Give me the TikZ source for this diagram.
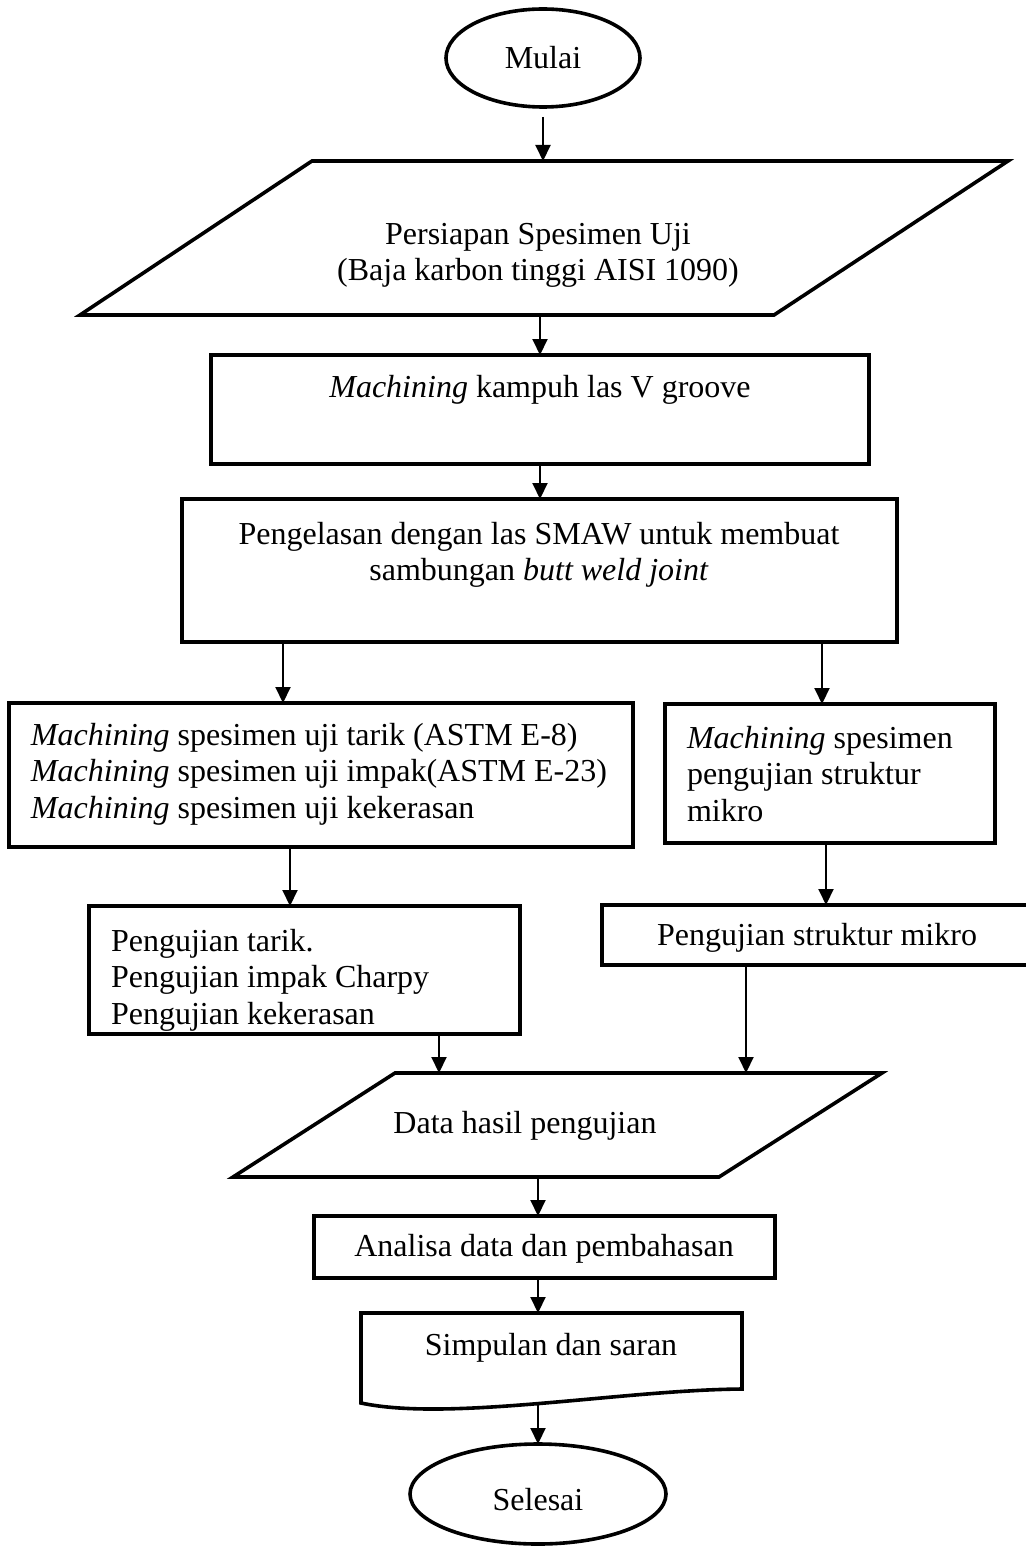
\documentclass[tikz,border=0pt]{standalone}
\usepackage{fontspec}
\setmainfont{Liberation Serif}
\usetikzlibrary{arrows.meta,shapes.geometric,fit}
\begin{document}
\begin{tikzpicture}[x=0.5pt,y=-0.5pt,
  shp/.style={draw=black, line width=1.8pt, line join=miter},
  boxn/.style={shp, rectangle, inner sep=0pt, outer sep=0pt},
  ghost/.style={rectangle, inner sep=0pt, outer sep=0pt},
  term/.style={shp, ellipse, inner sep=0pt, outer sep=0pt, font=\fontsize{16}{18.4}\selectfont},
  txt/.style={inner sep=0pt, outer sep=0pt, font=\fontsize{16}{18.4}\selectfont},
  arr/.style={line width=1pt, -{Triangle[length=8pt,width=7.5pt]}}]
\fill[white] (0,0) rectangle (1025,1546);
\useasboundingbox (0,0) rectangle (1025,1546);

% start
\node[term, minimum width=97pt, minimum height=49pt] (mulai) at (543,58) {Mulai};

% parallelogram 1
\node[ghost, fit={(80,161) (1008,315)}] (p1) {};
\draw[shp] (312,161) -- (1008,161) -- (774,315) -- (80,315) -- cycle;
\node[txt, anchor=base] (p1t) at (538,244) {\begin{tabular}[t]{@{}c@{}}Persiapan Spesimen Uji\\ (Baja karbon tinggi AISI 1090)\end{tabular}};

% box 2
\node[boxn, fit={(211,355) (869,464)}] (b2) {};
\node[txt, anchor=base] (b2t) at (540,397) {\textit{Machining} kampuh las V groove};

% box 3
\node[boxn, fit={(182,499) (897,642)}] (b3) {};
\node[txt, anchor=base] (b3t) at (539,544) {\begin{tabular}[t]{@{}c@{}}Pengelasan dengan las SMAW untuk membuat\\ sambungan \textit{butt weld joint}\end{tabular}};

% box 4
\node[boxn, fit={(9,703) (633,847)}] (b4) {};
\node[txt, anchor=base west] (b4t) at (31,745) {\begin{tabular}[t]{@{}l@{}}\textit{Machining} spesimen uji tarik (ASTM E-8)\\ \textit{Machining} spesimen uji impak(ASTM E-23)\\ \textit{Machining} spesimen uji kekerasan\end{tabular}};

% box 5
\node[boxn, fit={(665,704) (995,843)}] (b5) {};
\node[txt, anchor=base west] (b5t) at (687,748) {\begin{tabular}[t]{@{}l@{}}\textit{Machining} spesimen\\ pengujian struktur\\ mikro\end{tabular}};

% box 6
\node[boxn, fit={(89,906) (520,1034)}] (b6) {};
\node[txt, anchor=base west] (b6t) at (111,951) {\begin{tabular}[t]{@{}l@{}}Pengujian tarik.\\ Pengujian impak Charpy\\ Pengujian kekerasan\end{tabular}};

% box 7
\node[boxn, fit={(602,905) (1032,965)}] (b7) {};
\node[txt, anchor=base] (b7t) at (817,945) {Pengujian struktur mikro};

% parallelogram 2
\node[ghost, fit={(233,1073) (882,1177)}] (p2) {};
\draw[shp] (395,1073) -- (882,1073) -- (719,1177) -- (233,1177) -- cycle;
\node[txt, anchor=base] (p2t) at (525,1133) {Data hasil pengujian};

% box 8
\node[boxn, fit={(314,1216) (775,1278)}] (b8) {};
\node[txt, anchor=base] (b8t) at (544,1256) {Analisa data dan pembahasan};

% document shape
\node[ghost, fit={(361,1313) (742,1403)}] (doc) {};
\draw[shp] (361,1403) -- (361,1313) -- (742,1313) -- (742,1389)
  .. controls (620,1390) and (450,1422) .. (361,1403) -- cycle;
\node[txt, anchor=base] (doct) at (551,1355) {Simpulan dan saran};

% end
\node[term, minimum width=128pt, minimum height=50pt, text height=16pt, text depth=0pt] (selesai) at (538,1494) {Selesai};

% connectors
\draw[arr] ([yshift=-5pt]mulai.south) -- (mulai.south |- p1.north);
\draw[arr] (p1.south -| 540,0) -- (b2.north -| 540,0);
\draw[arr] (b2.south -| 540,0) -- (b3.north -| 540,0);
\draw[arr] (b3.south -| 283,0) -- (b4.north -| 283,0);
\draw[arr] (b3.south -| 822,0) -- (b5.north -| 822,0);
\draw[arr] (b4.south -| 290,0) -- (b6.north -| 290,0);
\draw[arr] (b5.south -| 826,0) -- (b7.north -| 826,0);
\draw[arr] (b6.south -| 439,0) -- (p2.north -| 439,0);
\draw[arr] (b7.south -| 746,0) -- (p2.north -| 746,0);
\draw[arr] (p2.south -| 538,0) -- (b8.north -| 538,0);
\draw[arr] (b8.south -| 538,0) -- (doc.north -| 538,0);
\draw[arr] (doc.south -| 538,0) -- (selesai.north);
\end{tikzpicture}
\end{document}
